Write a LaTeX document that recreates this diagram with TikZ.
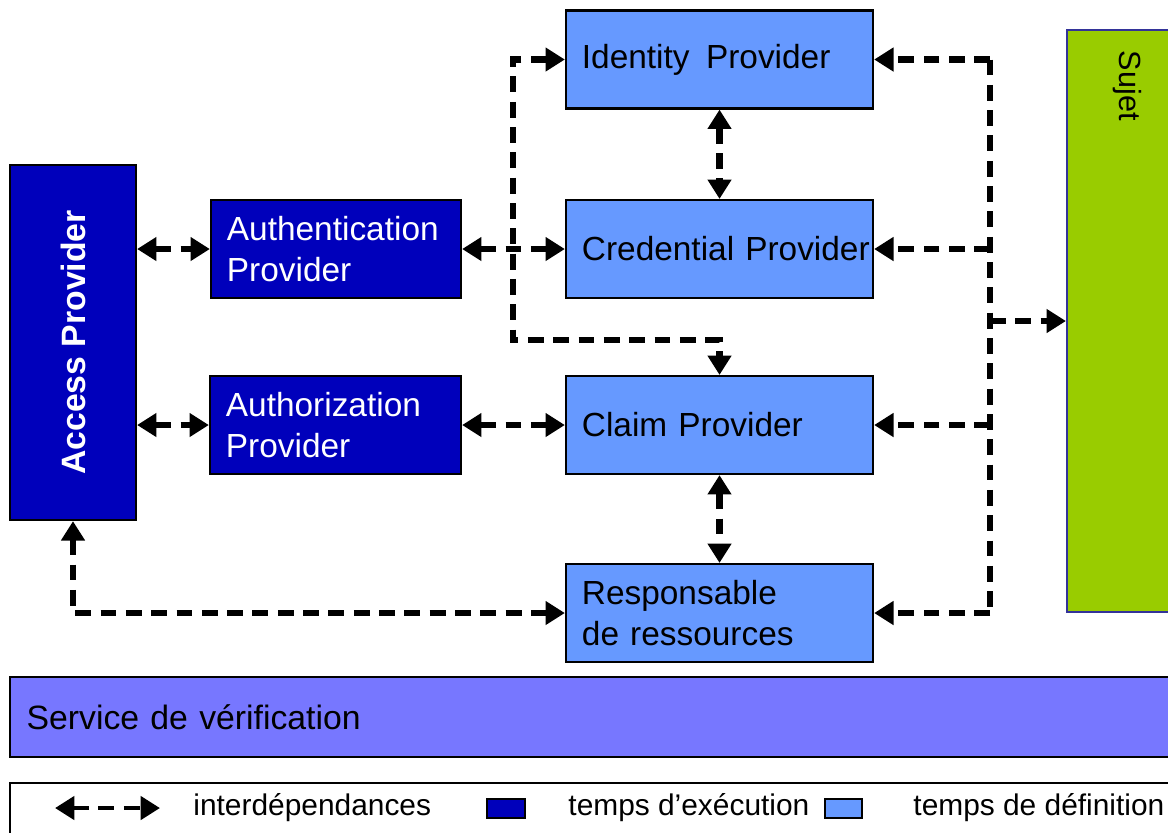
\documentclass[tikz,border=0pt]{standalone}
\usepackage{fontspec}
\setmainfont{Liberation Sans}
\usepackage{tikz}
\usetikzlibrary{calc, arrows.meta}
\usepackage{xcolor}
\definecolor{execBlue}{RGB}{0, 0, 187}
\definecolor{defBlue}{RGB}{102, 153, 255}
\definecolor{sujetGreen}{RGB}{153, 204, 0}
\definecolor{sujetEdge}{RGB}{51, 51, 153}
\definecolor{verifBlue}{RGB}{119, 119, 255}

\begin{document}
\begin{tikzpicture}[x=0.01cm, y=-0.01cm, >={Triangle[length=5.5pt, width=6.5pt]},
    font=\fontsize{9.5pt}{11.4pt}\selectfont,
    runbox/.style={draw=black, line width=0.6pt, fill=execBlue, text=white, inner xsep=0.16cm, align=left},
    defbox/.style={draw=black, line width=0.6pt, fill=defBlue, minimum height=0.98cm, text width=2.75cm, inner xsep=0.16cm, align=left},
    dep/.style={draw, line width=1.8pt, dash pattern=on 4.5pt off 2.7pt},
    legtext/.style={anchor=west, font=\fontsize{8.5pt}{10pt}\selectfont}]
  \useasboundingbox (0,0) rectangle (1168,832);
  \clip (0,0) rectangle (1168,832);

  % execution-time providers
  \node[runbox, minimum width=1.26cm, minimum height=3.55cm, align=center] (acc) at (73,342.5)
    {\rotatebox{90}{\fontsize{9.6pt}{11pt}\selectfont\bfseries Access Provider}};
  \node[runbox, text width=2.18cm, minimum height=0.98cm] (auth) at (336,249) {Authentication\\Provider};
  \node[runbox, text width=2.19cm, minimum height=0.98cm] (autz) at (335.5,425) {Authorization\\Provider};

  % definition-time providers
  \node[defbox] (idp) at (719.5,59.5) {Identity\hspace{1.5pt} Provider};
  \node[defbox] (cred) at (719.5,249) {Credential~Provider};
  \node[defbox] (claim) at (719.5,425) {Claim Provider};
  \node[defbox] (resp) at (719.5,613) {Responsable\\de ressources};

  \node[draw=sujetEdge, line width=0.6pt, fill=sujetGreen, minimum width=1.2cm, minimum height=5.82cm,
    inner sep=0pt, font=\fontsize{8.7pt}{10pt}\selectfont] (sujet) at (1127,321)
    {\rotatebox{-90}{\makebox[5.4cm][l]{Sujet}}};

  \node[draw=black, line width=0.6pt, fill=verifBlue, minimum height=0.8cm, text width=11.36cm,
    inner xsep=0.17cm, align=left, font=\fontsize{9.6pt}{11pt}\selectfont] (verif) at (595,717)
    {Service de vérification};

  % interdependencies
  \draw[dep, <->] (auth.west -| acc.east) -- (auth.west);
  \draw[dep, <->] (autz.west -| acc.east) -- (autz.west);
  \draw[dep, <->] (auth.east) -- (cred.west);
  \draw[dep, <->] (autz.east) -- (claim.west);
  \coordinate (jl) at (513,340);
  \draw[dep, <->] (idp.west) -| (jl) -| (claim.north);
  \draw[dep, <->] (idp.south) -- (cred.north);
  \draw[dep, <->] (claim.south) -- (resp.north);
  \draw[dep, <->] (acc.south) |- (resp.west);

  % bus towards the subject
  \coordinate (bus) at (990,321);
  \draw[dep] (idp.east -| bus) -- (resp.east -| bus);
  \draw[dep, ->] (idp.east -| bus) -- (idp.east);
  \draw[dep, ->] (cred.east -| bus) -- (cred.east);
  \draw[dep, ->] (claim.east -| bus) -- (claim.east);
  \draw[dep, ->] (resp.east -| bus) -- (resp.east);
  \draw[dep, ->] (bus) -- (sujet.west);

  % legend
  \node[draw=black, line width=0.6pt, minimum width=11.7cm, minimum height=0.56cm, inner sep=0pt] (legend) at (595,811) {};
  \coordinate (la) at (55,808);
  \coordinate (lb) at (160,808);
  \draw[dep, line width=1.4pt, <->] (la) -- (lb);
  \node[legtext] (ldep) at (181,808) {interdépendances};
  \node[draw=black, line width=0.6pt, fill=execBlue, minimum width=0.38cm, minimum height=0.19cm, inner sep=0pt] (lrun) at (506,808.5) {};
  \node[legtext] (lrunt) at (556,808) {temps d'exécution};
  \node[draw=black, line width=0.6pt, fill=defBlue, minimum width=0.37cm, minimum height=0.19cm, inner sep=0pt] (ldef) at (843.5,808.5) {};
  \node[legtext] (ldeft) at (901,808) {temps de définition};
\end{tikzpicture}
\end{document}
